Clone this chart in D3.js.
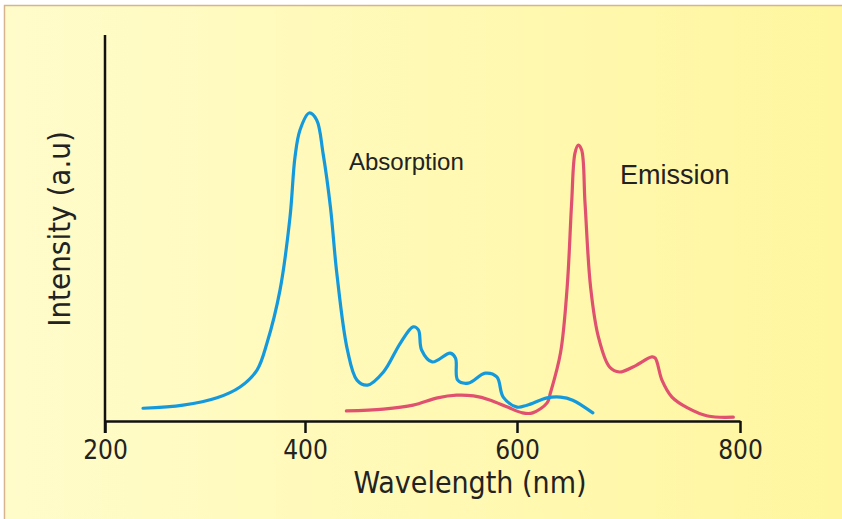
<!DOCTYPE html>
<html>
<head>
<meta charset="utf-8">
<script src="https://cdn.jsdelivr.net/npm/d3@7"></script>
<style>
  html, body { margin: 0; padding: 0; background: #fff; }
  svg { display: block; }
</style>
</head>
<body>
<div id="chart"></div>
<script>
const WIDTH = 842
const HEIGHT = 519

// wavelength ticks (the original axis is not evenly spaced)
var xTicks = [200, 400, 600, 800]

// absorption spectrum (wavelength nm, intensity a.u.)
var absWl = [238, 278, 312, 335, 352, 362, 375, 385, 390, 395, 404, 411, 417, 424, 430, 440, 449, 459, 474, 490, 502, 507, 510, 520, 537, 542, 544, 554, 570, 581, 587, 600, 609, 627, 639, 650, 668]
var absI  = [3.3, 4.1, 6.0, 8.8, 13.2, 20.2, 33.9, 52.8, 68.4, 75.4, 79.8, 78.0, 69.4, 55.4, 38.3, 18.4, 10.6, 9.3, 12.7, 20.2, 24.4, 23.6, 18.4, 15.3, 17.6, 16.3, 10.6, 9.8, 12.4, 11.4, 6.2, 3.6, 4.1, 6.0, 6.2, 5.4, 2.1]

// emission spectrum
var emWl = [439, 474, 502, 525, 543, 559, 575, 591, 605, 614, 627, 630, 639, 645, 649, 652, 655, 658, 661, 666, 673, 683, 692, 704, 721, 724, 730, 739, 753, 771, 794]
var emI  = [2.6, 3.1, 4.1, 6.0, 6.7, 6.5, 5.4, 3.6, 2.1, 2.1, 4.7, 7.3, 17.6, 34.7, 56.5, 69.4, 71.5, 70.2, 56.5, 34.7, 21.8, 14.0, 12.7, 14.0, 16.6, 16.3, 10.6, 6.2, 3.4, 1.3, 1.0]

var svg = d3.select("#chart")
	.append("svg")
	.attr("width", WIDTH)
	.attr("height", HEIGHT)

// background panel with gradient
var grad = svg.append("defs").append("linearGradient")
	.attr("id", "bg")
	.attr("x1", "0%").attr("x2", "100%").attr("y1", "0%").attr("y2", "0%")
grad.append("stop").attr("offset", "0%").attr("stop-color", "#fffccb")
grad.append("stop").attr("offset", "100%").attr("stop-color", "#fff69e")

svg.append("rect")
	.attr("x", 4.5).attr("y", 5.5)
	.attr("width", 860).attr("height", 530)
	.attr("fill", "url(#bg)")
	.attr("stroke", "#d8b48a")
	.attr("stroke-width", 1.5)

var x = d3.scaleLinear()
	.domain(xTicks)
	.range([105, 305, 517, 740])

var y = d3.scaleLinear()
	.domain([0, 100])
	.range([421, 35])

var line = d3.line()
	.x(function(d) { return x(d[0]) })
	.y(function(d) { return y(d[1]) })
	.curve(d3.curveCatmullRom.alpha(0.5))

var absData = absWl.map(function(w, i) { return [w, absI[i]] })
var emData = emWl.map(function(w, i) { return [w, emI[i]] })

svg.append("path")
	.datum(emData)
	.attr("d", line)
	.attr("fill", "none")
	.attr("stroke", "#e0506f")
	.attr("stroke-width", 3.2)
	.attr("stroke-linecap", "round")

svg.append("path")
	.datum(absData)
	.attr("d", line)
	.attr("fill", "none")
	.attr("stroke", "#1599dd")
	.attr("stroke-width", 3.2)
	.attr("stroke-linecap", "round")

// x axis
var xAxis = svg.append("g")
	.attr("transform", "translate(0," + y(0) + ")")
	.call(d3.axisBottom(x).tickValues(xTicks).tickSizeInner(12).tickSizeOuter(0).tickPadding(8))

xAxis.select(".domain").attr("stroke", "#111").attr("stroke-width", 2.5)
xAxis.selectAll(".tick line").attr("stroke", "#111").attr("stroke-width", 2.5)
xAxis.selectAll(".tick text")
	.attr("fill", "#222")
	.style("font-family", "'DejaVu Sans Condensed', 'DejaVu Sans', sans-serif")
	.style("font-size", "26px")

// y axis (no ticks)
svg.append("line")
	.attr("x1", x(200)).attr("x2", x(200))
	.attr("y1", y(100)).attr("y2", y(0) + 12)
	.attr("stroke", "#111")
	.attr("stroke-width", 2.5)

// axis titles
svg.append("text")
	.attr("x", 470).attr("y", 493)
	.attr("text-anchor", "middle")
	.attr("fill", "#222")
	.style("font-family", "'DejaVu Sans Condensed', 'DejaVu Sans', sans-serif")
	.style("font-size", "30px")
	.text("Wavelength (nm)")

svg.append("text")
	.attr("transform", "translate(70,229) rotate(-90)")
	.attr("text-anchor", "middle")
	.attr("fill", "#222")
	.style("font-family", "'DejaVu Sans Condensed', 'DejaVu Sans', sans-serif")
	.style("font-size", "31px")
	.text("Intensity (a.u)")

// series labels
svg.append("text")
	.attr("x", 349).attr("y", 170)
	.attr("fill", "#222")
	.style("font-family", "'Liberation Sans', Arial, sans-serif")
	.style("font-size", "24px")
	.text("Absorption")

svg.append("text")
	.attr("x", 620).attr("y", 184)
	.attr("fill", "#222")
	.style("font-family", "'Liberation Sans', Arial, sans-serif")
	.style("font-size", "27px")
	.text("Emission")
</script>
</body>
</html>
